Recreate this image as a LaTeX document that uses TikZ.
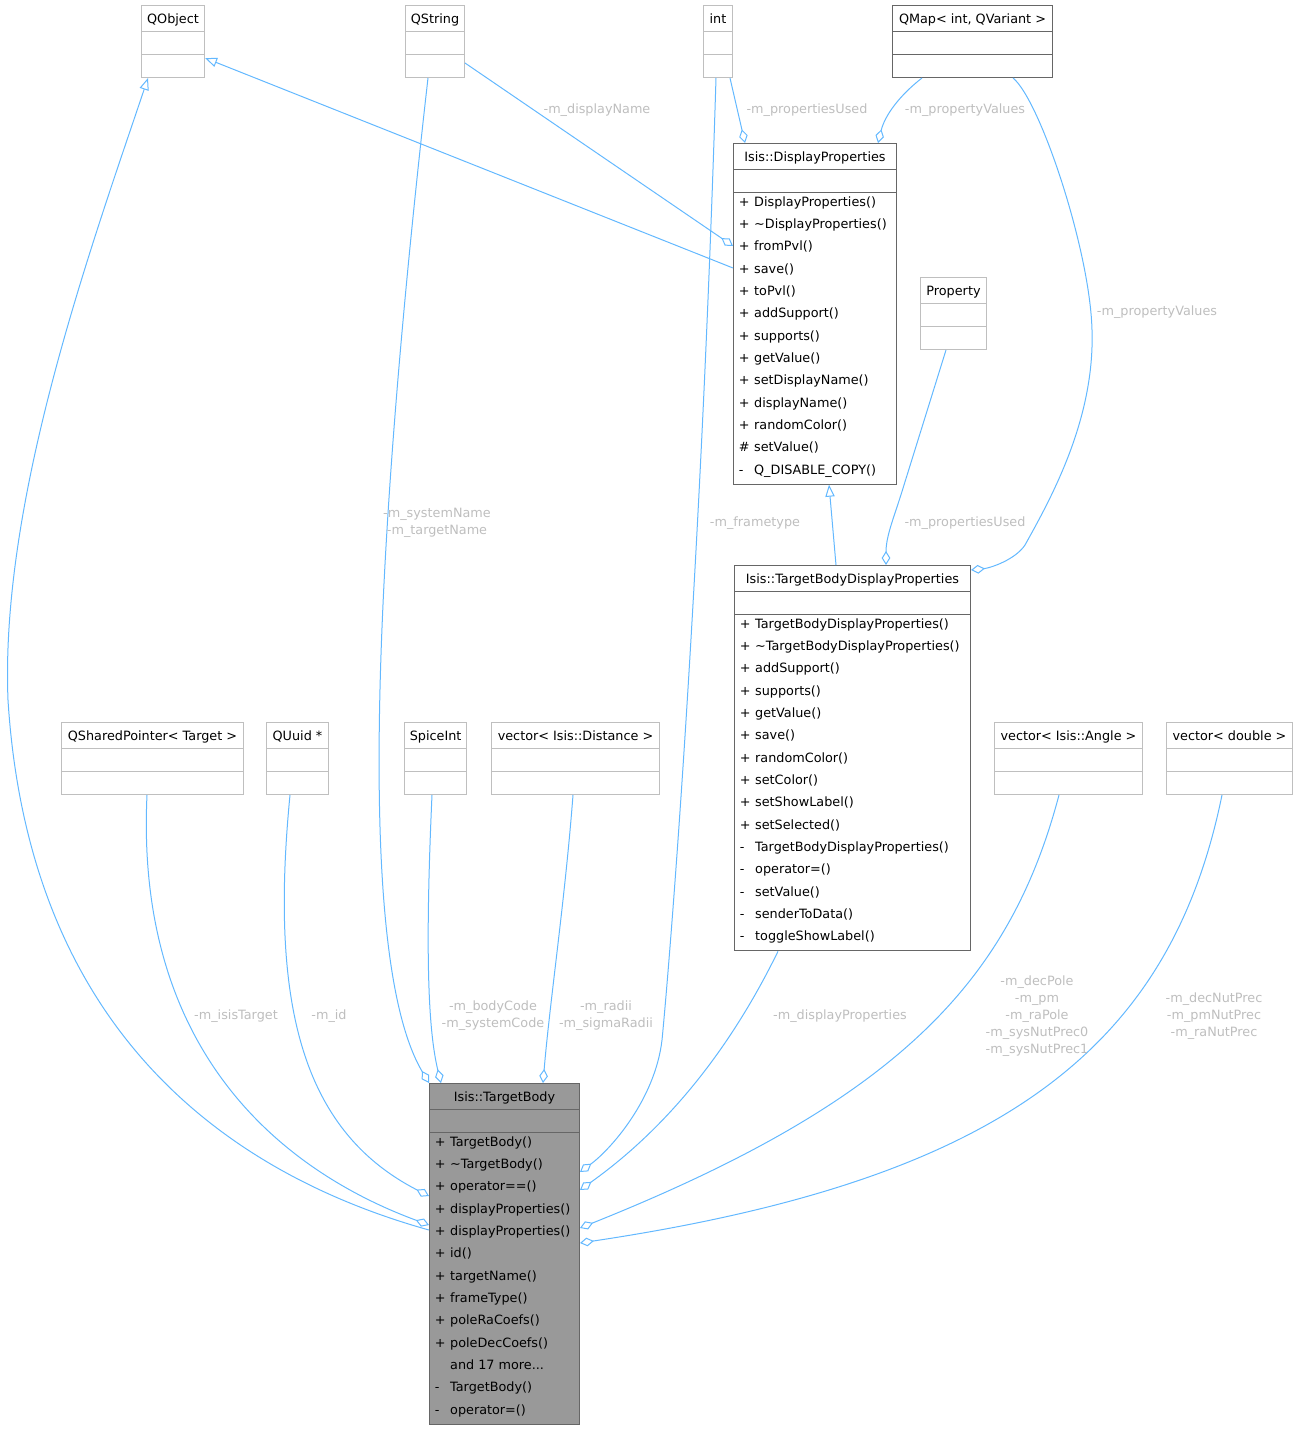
\documentclass[tikz,border=0pt]{standalone}
\usepackage{fontspec}
\setmainfont{DejaVu Sans}
\usetikzlibrary{calc}
\usetikzlibrary{arrows.meta}
\usetikzlibrary{shapes.multipart}
\definecolor{edgeblue}{HTML}{63B8FF}
\definecolor{extgray}{HTML}{BFBFBF}
\definecolor{isisgray}{HTML}{666666}
\definecolor{maingray}{HTML}{999999}
\definecolor{labelgray}{HTML}{BEBEBE}
\newcommand{\titlestrut}{\rule[-5pt]{0pt}{16.75pt}}
\newcommand{\memb}[2]{\makebox[11.5pt][l]{#1}#2\rule[-6.25pt]{0pt}{15pt}}
\tikzset{
	every path/.style={line width=0.75pt},
	cls/.style={
		draw,
		rectangle split,
		rectangle split parts=3,
		rectangle split part align={center,left,left},
		rectangle split empty part height=14.5pt,
		rectangle split empty part depth=0pt,
		align=left,
		inner xsep=4pt,
		inner ysep=1pt,
		anchor=north west,
		font=\fontsize{9.6}{16.75}\selectfont
	},
	extcls/.style={cls, draw=extgray},
	isiscls/.style={cls, draw=isisgray},
	maincls/.style={isiscls, fill=maingray},
	agg/.style={
		draw=edgeblue,
		-{Diamond[open, length=10.5pt, width=6.5pt]}
	},
	inherit/.style={
		draw=edgeblue,
		-{Triangle[open, length=9pt, width=7pt]}
	},
	lbl/.style={
		text=labelgray,
		align=center,
		inner sep=0pt,
		font=\fontsize{9.6}{12.75}\selectfont
	},
}

\begin{document}
\begin{tikzpicture}[x=0.75pt, y=-0.75pt]
	\useasboundingbox (0,0) rectangle (1298,1429);

	% top row
	\node[extcls, minimum width=47.25pt]  (qobject) at (141,5) {\titlestrut QObject};
	\node[extcls, minimum width=44.25pt]  (qstring) at (405,5) {\titlestrut QString};
	\node[extcls, minimum width=21.75pt]  (int)     at (703,5) {\titlestrut int};
	\node[isiscls, minimum width=120pt]   (qmap)    at (892,5) {\titlestrut QMap< int, QVariant >};

	\node[isiscls, minimum width=122.25pt] (dispprops) at (733,143) {\titlestrut Isis::DisplayProperties
		\nodepart{two}
		\nodepart{three}
		\memb{+}{DisplayProperties()}\\
		\memb{+}{\textasciitilde DisplayProperties()}\\
		\memb{+}{fromPvl()}\\
		\memb{+}{save()}\\
		\memb{+}{toPvl()}\\
		\memb{+}{addSupport()}\\
		\memb{+}{supports()}\\
		\memb{+}{getValue()}\\
		\memb{+}{setDisplayName()}\\
		\memb{+}{displayName()}\\
		\memb{+}{randomColor()}\\
		\memb{\#}{setValue()}\\
		\memb{-}{Q\_DISABLE\_COPY()}};

	\node[extcls, minimum width=49.5pt] (property) at (920,277) {\titlestrut Property};

	\node[isiscls, minimum width=177pt] (tbdispprops) at (734,565) {\titlestrut Isis::TargetBodyDisplayProperties
		\nodepart{two}
		\nodepart{three}
		\memb{+}{TargetBodyDisplayProperties()}\\
		\memb{+}{\textasciitilde TargetBodyDisplayProperties()}\\
		\memb{+}{addSupport()}\\
		\memb{+}{supports()}\\
		\memb{+}{getValue()}\\
		\memb{+}{save()}\\
		\memb{+}{randomColor()}\\
		\memb{+}{setColor()}\\
		\memb{+}{setShowLabel()}\\
		\memb{+}{setSelected()}\\
		\memb{-}{TargetBodyDisplayProperties()}\\
		\memb{-}{operator=()}\\
		\memb{-}{setValue()}\\
		\memb{-}{senderToData()}\\
		\memb{-}{toggleShowLabel()}};

	% member types
	\node[extcls, minimum width=136.5pt] (qsharedptr) at (61,722)   {\titlestrut QSharedPointer< Target >};
	\node[extcls, minimum width=46.5pt]  (quuid)      at (266,722)  {\titlestrut QUuid *};
	\node[extcls, minimum width=46.5pt]  (spiceint)   at (404,722)  {\titlestrut SpiceInt};
	\node[extcls, minimum width=126pt]   (vecdist)    at (491,722)  {\titlestrut vector< Isis::Distance >};
	\node[extcls, minimum width=111pt]   (vecangle)   at (994,722)  {\titlestrut vector< Isis::Angle >};
	\node[extcls, minimum width=94.5pt]  (vecdouble)  at (1166,722) {\titlestrut vector< double >};

	\node[maincls, minimum width=112.5pt] (targetbody) at (429,1083) {\titlestrut Isis::TargetBody
		\nodepart{two}
		\nodepart{three}
		\memb{+}{TargetBody()}\\
		\memb{+}{\textasciitilde TargetBody()}\\
		\memb{+}{operator==()}\\
		\memb{+}{displayProperties()}\\
		\memb{+}{displayProperties()}\\
		\memb{+}{id()}\\
		\memb{+}{targetName()}\\
		\memb{+}{frameType()}\\
		\memb{+}{poleRaCoefs()}\\
		\memb{+}{poleDecCoefs()}\\
		\memb{}{and 17 more...}\\
		\memb{-}{TargetBody()}\\
		\memb{-}{operator=()}};

	% inheritance
	\draw[inherit] ($(targetbody.north west)+(0,147)$) .. controls (250,1180) and (30,1050) .. (8,700)
		.. controls (0,500) and (90,250) .. ($(qobject.south west)+(7,0)$);
	\draw[inherit] ($(dispprops.north west)+(0,125)$) -- ($(qobject.south east)+(0,-20)$);
	\draw[inherit] ($(tbdispprops.north west)+(102,0)$) -- ($(dispprops.south west)+(96,0)$);

	% members of DisplayProperties
	\draw[agg] ($(int.south east)+(-3,0)$) -- ($(dispprops.north west)+(12,0)$);
	\draw[agg] ($(qmap.south west)+(30,0)$) .. controls (900,95) and (885,115) .. ($(dispprops.north west)+(145,0)$);
	\draw[agg] ($(qstring.south east)+(0,-15)$) -- ($(dispprops.north west)+(0,103)$);

	% members of TargetBodyDisplayProperties
	\draw[agg] ($(qmap.south west)+(121,0)$) .. controls (1040,100) and (1090,250) .. (1092,330)
		.. controls (1095,420) and (1050,500) .. (1025,545)
		.. controls (1015,560) and (990,568) .. ($(tbdispprops.north east)+(0,5)$);
	\draw[agg] ($(property.south west)+(26,0)$) -- (904,485) .. controls (895,515) and (886,535) .. ($(tbdispprops.north west)+(152,0)$);

	% members of TargetBody
	\draw[agg] ($(qstring.south west)+(23,0)$) .. controls (380,500) and (350,950) .. (targetbody.north west);
	\draw[agg] ($(spiceint.south west)+(28,0)$) .. controls (425,950) and (428,1030) .. ($(targetbody.north west)+(12,0)$);
	\draw[agg] ($(vecdist.south west)+(82,0)$) .. controls (565,900) and (550,1000) .. ($(targetbody.north west)+(114,0)$);
	\draw[agg] ($(qsharedptr.south west)+(86,0)$) .. controls (135,1050) and (280,1170) .. ($(targetbody.north west)+(0,142)$);
	\draw[agg] ($(quuid.south west)+(24,0)$) .. controls (270,1000) and (300,1130) .. ($(targetbody.north west)+(0,113)$);
	\draw[agg] ($(int.south west)+(13,0)$) .. controls (700,600) and (668,980) .. (662,1040)
		.. controls (655,1100) and (610,1150) .. ($(targetbody.north east)+(0,89)$);
	\draw[agg] ($(tbdispprops.south west)+(44,0)$) .. controls (720,1070) and (650,1140) .. ($(targetbody.north east)+(0,107)$);
	\draw[agg] ($(vecangle.south west)+(65,0)$) .. controls (1010,980) and (900,1100) .. ($(targetbody.north east)+(0,145)$);
	\draw[agg] ($(vecdouble.south west)+(56,0)$) .. controls (1170,1050) and (1000,1180) .. ($(targetbody.north east)+(0,160)$);

	% labels
	\node[lbl] (lusedint)   at (807,110)  {-m\_propertiesUsed};
	\node[lbl] (lvalmap)    at (965,110)  {-m\_propertyValues};
	\node[lbl] (ldispname)  at (597,110)  {-m\_displayName};
	\node[lbl] (lvaltb)     at (1157,312) {-m\_propertyValues};
	\node[lbl] (lusedprop)  at (965,523)  {-m\_propertiesUsed};
	\node[lbl] (lname)      at (437,523)  {-m\_systemName\\-m\_targetName};
	\node[lbl] (lframe)     at (755,523)  {-m\_frametype};
	\node[lbl] (ltarget)    at (236,1016) {-m\_isisTarget};
	\node[lbl] (lid)        at (329,1016) {-m\_id};
	\node[lbl] (lcode)      at (493,1016) {-m\_bodyCode\\-m\_systemCode};
	\node[lbl] (lradii)     at (606,1016) {-m\_radii\\-m\_sigmaRadii};
	\node[lbl] (ldisp)      at (840,1016) {-m\_displayProperties};
	\node[lbl] (lpole)      at (1037,1016) {-m\_decPole\\-m\_pm\\-m\_raPole\\-m\_sysNutPrec0\\-m\_sysNutPrec1};
	\node[lbl] (lnutprec)   at (1214,1016) {-m\_decNutPrec\\-m\_pmNutPrec\\-m\_raNutPrec};

\end{tikzpicture}
\end{document}
